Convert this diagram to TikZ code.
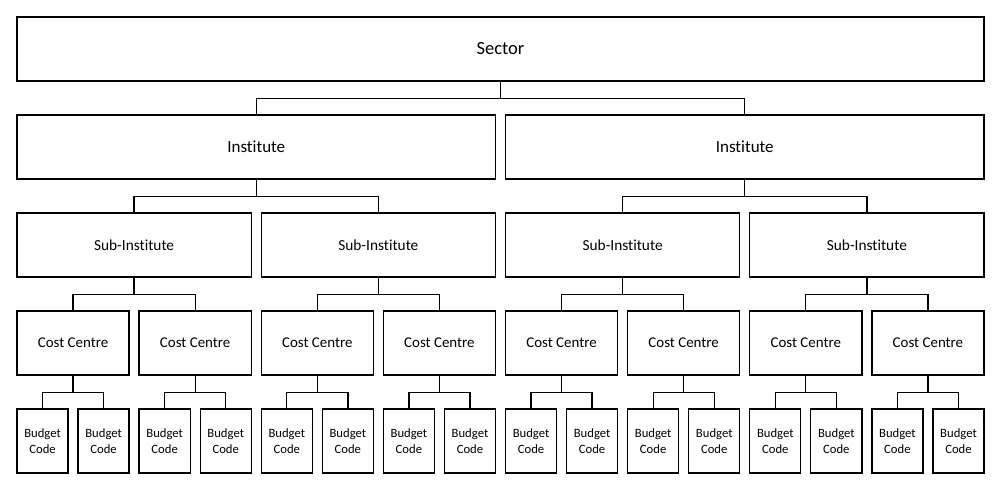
\documentclass[tikz,border=0pt]{standalone}
\usepackage{fontspec}
\setmainfont{Carlito}[Ligatures=NoCommon]
\usetikzlibrary{positioning}

\begin{document}
\begin{tikzpicture}[x=0.75pt, y=-0.75pt, line width=1pt,
	box/.style={draw, minimum height=48pt, inner sep=0pt, align=center}]
	\useasboundingbox (0,0) rectangle (1002,492);
	
	\node[box, minimum width=967*0.75pt, font=\fontsize{13.9}{16}\selectfont]
	(sec1) at (500.5,49) {Sector};
	
	% each level halves the boxes of the one above
	\foreach \n/\nm/\up/\cnt/\yc/\fs/\txt in {
		1/inst/sec/2/147/12.75/Institute,
		2/sub/inst/4/245/11.5/Sub-Institute,
		3/cc/sub/8/343/11.2/Cost Centre,
		4/bc/cc/16/441/9.5/{Budget\\Code}}
	{
		\pgfmathsetmacro\w{(967-10*(\cnt-1))/\cnt}
		\foreach \k in {1,...,\cnt} {
			\pgfmathsetmacro\cx{17+(\k-1)*(\w+10)+\w/2}
			\pgfmathtruncatemacro\p{ceil(\k/2)}
			\node[box, minimum width=\w*0.75pt, font=\fontsize{\fs}{12.5}\selectfont]
			(\nm\k) at (\cx,\yc) {\txt};
			\draw (\up\p.south) -- ++(0,17) -| (\nm\k.north);
		}
	}
\end{tikzpicture}
\end{document}
